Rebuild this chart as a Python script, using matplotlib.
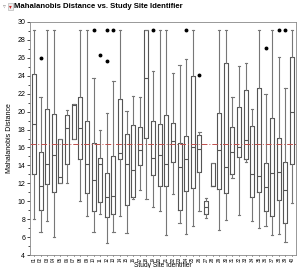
import matplotlib.pyplot as plt
from matplotlib.ticker import MultipleLocator

plt.rcParams['font.family'] = ['Liberation Sans', 'DejaVu Sans']

sites = ["01", "02", "03", "04", "05", "06", "07", "08", "09", "10",
         "11", "12", "13", "14", "15", "16", "17", "18", "19", "20",
         "21", "22", "23", "24", "25", "26", "27", "28", "29", "30",
         "31", "32", "33", "34", "35", "36", "37", "38", "39", "40"]

whislo = [8.0, 6.6, 7.8, 6.0, 12.0, 12.0, 17.0, 10.0, 8.4, 6.6,
          8.6, 5.3, 6.6, 8.3, 6.4, 10.2, 11.2, 10.2, 9.4, 8.9,
          6.25, 10.8, 7.55, 6.3, 7.2, 8.95, 8.1, 11.65, 6.8, 7.9,
          12.6, 8.5, 14.4, 7.75, 7.0, 7.2, 6.25, 6.3, 5.5, 9.8]
q1 = [13.0, 9.0, 11.9, 11.0, 12.0, 14.1, 17.0, 14.7, 10.9, 8.9,
      9.9, 8.2, 8.6, 14.7, 9.6, 10.5, 14.0, 17.1, 12.9, 11.75,
      11.75, 14.4, 9.05, 11.1, 11.5, 13.25, 8.6, 11.65, 11.4, 10.9,
      13.0, 14.9, 14.75, 10.5, 11.05, 8.9, 8.3, 10.1, 7.55, 14.1]
med = [18.6, 11.7, 14.2, 15.2, 12.7, 18.2, 20.7, 18.2, 14.1, 12.4,
       14.2, 10.5, 10.6, 15.4, 14.2, 13.5, 15.75, 23.8, 14.8, 15.2,
       14.2, 16.75, 13.85, 14.7, 16.0, 15.8, 9.4, 11.7, 15.75, 13.85,
       15.45, 16.0, 16.85, 13.0, 12.8, 11.6, 13.2, 13.3, 11.3, 20.0]
q3 = [24.2, 15.5, 20.3, 19.7, 17.0, 19.6, 20.8, 21.6, 19.0, 16.5,
      14.8, 13.2, 15.0, 21.4, 17.5, 18.5, 18.25, 29.1, 19.0, 18.6,
      19.6, 18.7, 16.55, 17.25, 24.0, 17.4, 10.0, 14.3, 19.8, 25.45,
      18.25, 20.5, 22.4, 18.35, 22.6, 14.3, 19.3, 17.1, 14.4, 26.1]
whishi = [29.1, 21.6, 29.1, 29.1, 17.0, 20.2, 20.8, 29.1, 29.1, 23.8,
          17.9, 19.9, 23.4, 29.1, 20.1, 21.75, 21.6, 29.1, 24.55, 29.1,
          29.1, 24.3, 25.2, 25.9, 29.1, 17.75, 10.35, 14.3, 29.1, 29.1,
          21.6, 25.1, 25.45, 20.3, 29.1, 22.0, 29.1, 26.1, 22.6, 29.1]
outliers = {2: [26.0], 10: [29.1], 11: [26.3], 12: [29.1, 25.6], 13: [29.1],
            19: [29.1], 24: [29.1], 26: [24.1], 36: [27.15], 38: [29.1], 39: [29.1]}
grand_mean = 16.4

stats = []
for i, s in enumerate(sites):
    stats.append(dict(label=s, whislo=whislo[i], q1=q1[i], med=med[i], q3=q3[i],
                      whishi=whishi[i], fliers=outliers.get(i + 1, [])))

fig = plt.figure(figsize=(3.0, 2.68), dpi=100)
ax = fig.add_axes([30 / 300, 1 - 255 / 268, 266 / 300, 233 / 268])

ax.bxp(stats, widths=0.6, capwidths=0.35, showfliers=True,
       boxprops=dict(color="#555555", linewidth=0.8),
       whiskerprops=dict(color="#777777", linewidth=0.8),
       capprops=dict(color="#777777", linewidth=0.8),
       medianprops=dict(color="#555555", linewidth=0.8),
       flierprops=dict(marker="o", markersize=1.8, markerfacecolor="black",
                       markeredgecolor="black", linestyle="none"))

ax.axhline(grand_mean, color="#c0504d", linewidth=0.7, linestyle=(0, (6, 2, 1, 2)))

ax.set_ylim(4, 30)
ax.set_xlim(0.4, len(sites) + 0.6)
ax.yaxis.set_major_locator(MultipleLocator(2))
ax.yaxis.set_minor_locator(MultipleLocator(1))
ax.tick_params(axis="y", labelsize=5, length=2.5, width=0.5, pad=1)
ax.tick_params(axis="y", which="minor", length=1.5, width=0.5)
ax.tick_params(axis="x", labelsize=3.3, length=1, width=0.5, pad=0.5, labelrotation=90)
for sp in ax.spines.values():
    sp.set_color("#888888")
    sp.set_linewidth(0.6)

ax.set_ylabel("Mahalanobis Distance", fontsize=5, labelpad=3)
fig.text(163 / 300, 1 - 265.3 / 268, "Study Site Identifier", fontsize=4.8,
         ha="center", va="center")

fig.text(14 / 300, 1 - 6 / 268, "Mahalanobis Distance vs. Study Site Identifier",
         fontsize=5.6, fontweight="bold", va="center", ha="left")
fig.text(3 / 300, 1 - 6 / 268, "\u25bf", fontsize=4, color="#888888", va="center")
fig.patches.append(plt.Rectangle((8 / 300, 1 - 10 / 268), 5 / 300, 7 / 268,
                                 transform=fig.transFigure, facecolor="#eeeeee",
                                 edgecolor="#aaaaaa", linewidth=0.4))
fig.text(10.5 / 300, 1 - 6.5 / 268, "\u25be", fontsize=4, color="#cc2222",
         va="center", ha="center")

fig.savefig("out.png", dpi=100)
